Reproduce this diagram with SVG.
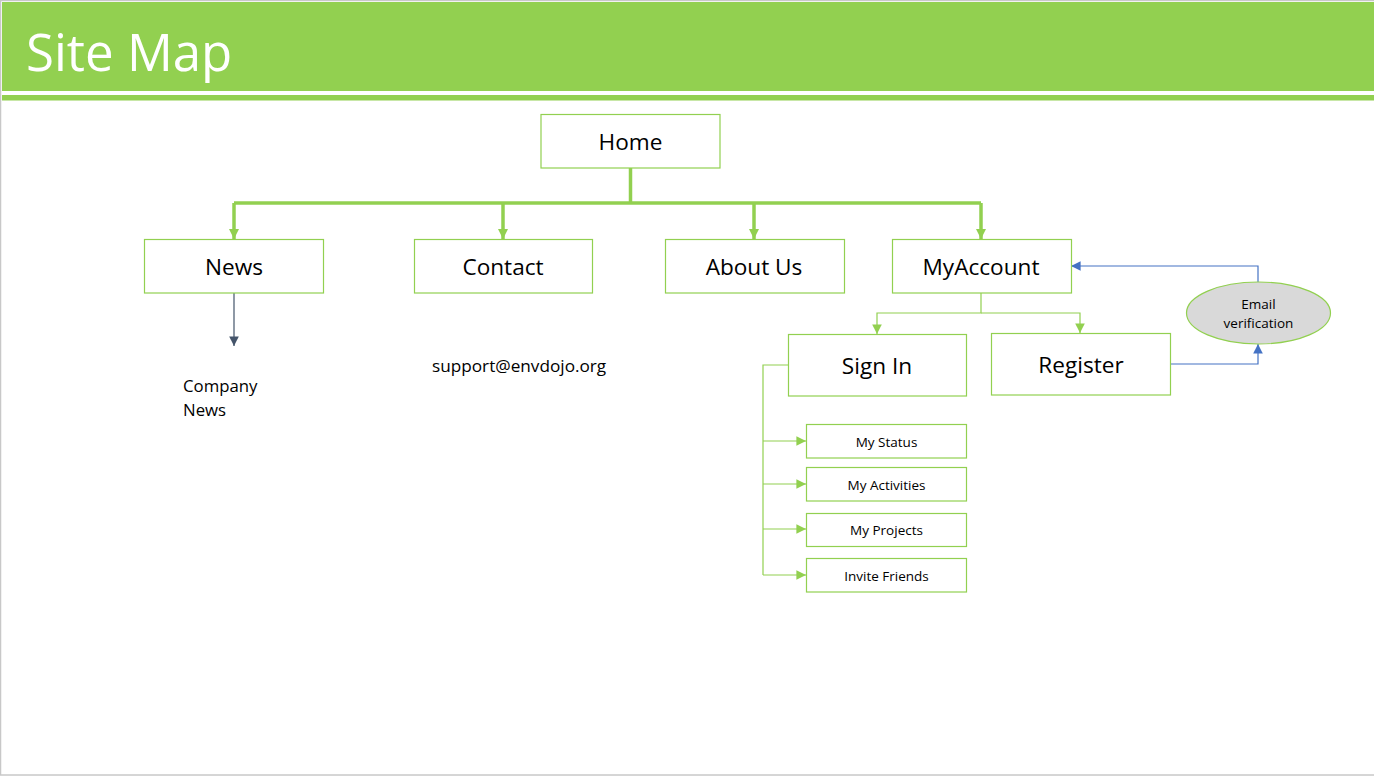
<svg xmlns="http://www.w3.org/2000/svg" width="1374" height="777" viewBox="0 0 1374 777">
  <defs>
    <style>
      .box { fill: #ffffff; stroke: #92D050; stroke-width: 1.2; }
      .lbl { font-family: "Open Sans", "Liberation Sans", sans-serif; fill: #000000; text-anchor: middle; }
      .big { font-size: 22.6px; }
      .small { font-size: 13.5px; }
      .green { fill: none; stroke: #92D050; stroke-width: 1.2; }
      .greenThick { fill: none; stroke: #92D050; stroke-width: 3.5; }
      .blue { fill: none; stroke: #4472C4; stroke-width: 1.2; }
      .dark { fill: none; stroke: #44546A; stroke-width: 1.2; }
    </style>
    <marker id="arrGreenBig" viewBox="0 0 10 10" refX="10" refY="5" markerWidth="3" markerHeight="3" markerUnits="strokeWidth" orient="auto">
      <path d="M0,0 L10,5 L0,10 z" fill="#92D050"/>
    </marker>
    <marker id="arrGreen" viewBox="0 0 10 10" refX="10" refY="5" markerWidth="8" markerHeight="8" markerUnits="strokeWidth" orient="auto">
      <path d="M0,0 L10,5 L0,10 z" fill="#92D050"/>
    </marker>
    <marker id="arrBlue" viewBox="0 0 10 10" refX="10" refY="5" markerWidth="8" markerHeight="8" markerUnits="strokeWidth" orient="auto">
      <path d="M0,0 L10,5 L0,10 z" fill="#4472C4"/>
    </marker>
    <marker id="arrDark" viewBox="0 0 10 10" refX="10" refY="5" markerWidth="8" markerHeight="8" markerUnits="strokeWidth" orient="auto">
      <path d="M0,0 L10,5 L0,10 z" fill="#44546A"/>
    </marker>
  </defs>

  <!-- page frame -->
  <rect x="0.5" y="0.5" width="1380" height="774.5" fill="#ffffff" stroke="#c8c8c8" stroke-width="1.5"/>

  <!-- title banner -->
  <g id="header">
    <rect x="2" y="2" width="1372" height="89" fill="#92D050"/>
    <rect x="2" y="95" width="1372" height="5.5" fill="#92D050"/>
    <text x="26" y="71" font-family="Open Sans, Liberation Sans, sans-serif" font-size="51" fill="#ffffff">Site Map</text>
  </g>

  <!-- connectors -->
  <g id="connectors">
    <path class="greenThick" d="M630.5,168 V203"/>
    <path class="greenThick" d="M234,203 H981"/>
    <path class="greenThick" d="M234,203 V239" marker-end="url(#arrGreenBig)"/>
    <path class="greenThick" d="M503,203 V239" marker-end="url(#arrGreenBig)"/>
    <path class="greenThick" d="M754,203 V239" marker-end="url(#arrGreenBig)"/>
    <path class="greenThick" d="M981,203 V239" marker-end="url(#arrGreenBig)"/>

    <path class="dark" d="M234,293 V346" marker-end="url(#arrDark)"/>

    <path class="green" d="M981,293 V313 H877 V334" marker-end="url(#arrGreen)"/>
    <path class="green" d="M981,313 H1080 V333" marker-end="url(#arrGreen)"/>

    <path class="green" d="M788,365 H763 V575"/>
    <path class="green" d="M763,441 H806" marker-end="url(#arrGreen)"/>
    <path class="green" d="M763,484 H806" marker-end="url(#arrGreen)"/>
    <path class="green" d="M763,529 H806" marker-end="url(#arrGreen)"/>
    <path class="green" d="M763,575 H806" marker-end="url(#arrGreen)"/>

    <path class="blue" d="M1170,364 H1258 V344" marker-end="url(#arrBlue)"/>
    <path class="blue" d="M1258,282 V266 H1071" marker-end="url(#arrBlue)"/>
  </g>

  <g id="home">
    <rect class="box" x="541" y="114.5" width="179" height="53.5"/>
    <text class="lbl big" x="630.5" y="150">Home</text>
  </g>
  <g id="news">
    <rect class="box" x="144.5" y="239.5" width="179" height="53.5"/>
    <text class="lbl big" x="234" y="275">News</text>
  </g>
  <g id="contact">
    <rect class="box" x="414.5" y="239.5" width="178" height="53.5"/>
    <text class="lbl big" x="503" y="275">Contact</text>
  </g>
  <g id="about">
    <rect class="box" x="665.5" y="239.5" width="179" height="53.5"/>
    <text class="lbl big" x="754" y="275">About Us</text>
  </g>
  <g id="myaccount">
    <rect class="box" x="892.5" y="239.5" width="179" height="53.5"/>
    <text class="lbl big" x="981" y="275">MyAccount</text>
  </g>

  <g id="company-news">
    <text font-family="Open Sans, Liberation Sans, sans-serif" font-size="16.8" fill="#000000">
      <tspan x="183" y="392">Company</tspan>
      <tspan x="183" y="416">News</tspan>
    </text>
  </g>
  <g id="support-email">
    <text x="432" y="372" font-family="Open Sans, Liberation Sans, sans-serif" font-size="17.2" fill="#000000">support@envdojo.org</text>
  </g>

  <g id="signin">
    <rect class="box" x="788.5" y="334.5" width="178" height="61.5"/>
    <text class="lbl big" x="877" y="374">Sign In</text>
  </g>
  <g id="register">
    <rect class="box" x="991.5" y="333.5" width="179" height="61.5"/>
    <text class="lbl big" x="1081" y="373">Register</text>
  </g>
  <g id="email-verification">
    <ellipse cx="1258.5" cy="313" rx="72" ry="31" fill="#D9D9D9" stroke="#92D050" stroke-width="1.2"/>
    <text class="lbl" font-size="13.5" x="1258.5" y="309">Email</text>
    <text class="lbl" font-size="13.5" x="1258.5" y="328">verification</text>
  </g>

  <g id="my-status">
    <rect class="box" x="806.5" y="424.5" width="160" height="33.5"/>
    <text class="lbl small" x="886.5" y="446.5">My Status</text>
  </g>
  <g id="my-activities">
    <rect class="box" x="806.5" y="467.5" width="160" height="33.5"/>
    <text class="lbl small" x="886.5" y="489.5">My Activities</text>
  </g>
  <g id="my-projects">
    <rect class="box" x="806.5" y="513.5" width="160" height="33"/>
    <text class="lbl small" x="886.5" y="535">My Projects</text>
  </g>
  <g id="invite-friends">
    <rect class="box" x="806.5" y="558.5" width="160" height="33.5"/>
    <text class="lbl small" x="886.5" y="580.5">Invite Friends</text>
  </g>
</svg>
